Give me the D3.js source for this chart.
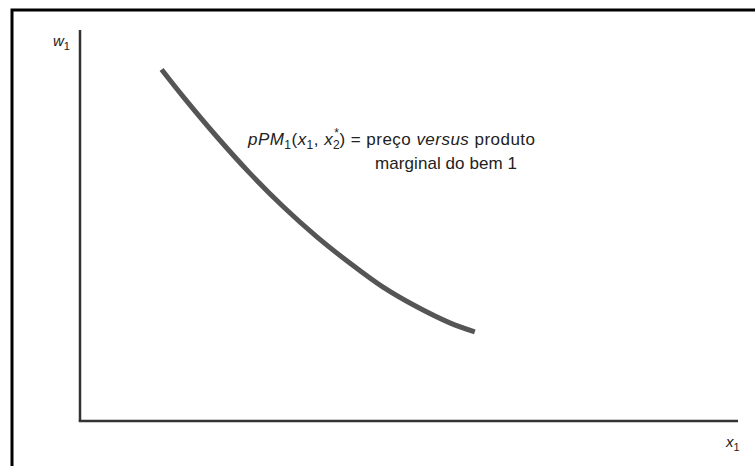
<!DOCTYPE html>
<html>
<head>
<meta charset="utf-8">
<script src="https://cdn.jsdelivr.net/npm/d3@7"></script>
<style>
  body { margin: 0; background: #fff; }
  svg { display: block; }
  text { font-family: "Liberation Sans", Arial, sans-serif; fill: #222; }
</style>
</head>
<body>
<svg id="chart"></svg>
<script>
const width = 755;
const height = 466;

// curve pPM1(x1, x2*) (abstract units, 0..10 on both axes)
const curveX = [1.24, 1.57, 2.08, 2.58, 3.09, 3.60, 4.10, 4.60, 5.12, 5.62, 6.00];
const curveY = [8.99, 8.29, 7.27, 6.34, 5.48, 4.71, 4.04, 3.43, 2.92, 2.51, 2.28];
const curve = curveX.map((x, i) => ({ x: x, y: curveY[i] }));

const svg = d3.select('#chart')
    .attr('width', width)
    .attr('height', height);

const xScale = d3.scaleLinear().domain([0, 10]).range([80, 738]);
const yScale = d3.scaleLinear().domain([0, 10]).range([421, 30]);

// outer frame (only top and left sides are visible)
svg.append('rect')
    .attr('x', 12)
    .attr('y', 10)
    .attr('width', 900)
    .attr('height', 600)
    .attr('fill', 'none')
    .attr('stroke', '#000')
    .attr('stroke-width', 3);

// axes
const axisColor = '#333';
svg.append('line')
    .attr('x1', xScale(0)).attr('y1', yScale(0))
    .attr('x2', xScale(0)).attr('y2', yScale(10))
    .attr('stroke', axisColor).attr('stroke-width', 2.5);
svg.append('line')
    .attr('x1', xScale(0) - 1.25).attr('y1', yScale(0))
    .attr('x2', xScale(10)).attr('y2', yScale(0))
    .attr('stroke', axisColor).attr('stroke-width', 2.5);

// axis labels
const wLabel = svg.append('text')
    .attr('x', 53).attr('y', 46)
    .style('font-size', '15px');
wLabel.append('tspan').style('font-style', 'italic').text('w');
wLabel.append('tspan').attr('dy', 4).style('font-size', '11px').text('1');

const xLabel = svg.append('text')
    .attr('x', 726).attr('y', 447)
    .style('font-size', '15px');
xLabel.append('tspan').style('font-style', 'italic').text('x');
xLabel.append('tspan').attr('dy', 4).style('font-size', '11px').text('1');

// the curve
const line = d3.line()
    .x(d => xScale(d.x))
    .y(d => yScale(d.y))
    .curve(d3.curveCatmullRom);

svg.append('path')
    .datum(curve)
    .attr('d', line)
    .attr('fill', 'none')
    .attr('stroke', '#555')
    .attr('stroke-width', 5);

// annotation
const fs = 17;
const sub = '12px';
const t1 = svg.append('text')
    .attr('x', 248).attr('y', 145)
    .attr('textLength', 287)
    .attr('lengthAdjust', 'spacing')
    .style('font-size', fs + 'px');
t1.append('tspan').style('font-style', 'italic').text('pPM');
t1.append('tspan').attr('dy', 4).style('font-size', sub).text('1');
t1.append('tspan').attr('dy', -4).text('(');
t1.append('tspan').style('font-style', 'italic').text('x');
t1.append('tspan').attr('dy', 4).style('font-size', sub).text('1');
t1.append('tspan').attr('dy', -4).text(', ');
t1.append('tspan').style('font-style', 'italic').text('x');
t1.append('tspan').attr('dy', 4).style('font-size', sub).text('2');
t1.append('tspan').attr('dx', -6).attr('dy', -12).style('font-size', sub).text('*');
t1.append('tspan').attr('dy', 8).text(') = preço ');
t1.append('tspan').style('font-style', 'italic').text('versus');
t1.append('tspan').text(' produto');

svg.append('text')
    .attr('x', 375).attr('y', 169)
    .attr('textLength', 142)
    .attr('lengthAdjust', 'spacing')
    .style('font-size', fs + 'px')
    .text('marginal do bem 1');
</script>
</body>
</html>
